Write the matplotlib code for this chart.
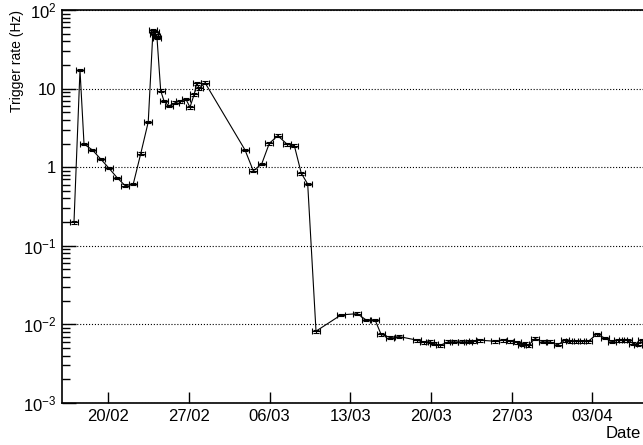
import matplotlib
matplotlib.use('Agg')
import matplotlib.pyplot as plt
import matplotlib.dates as mdates
from matplotlib.ticker import FixedLocator, LogLocator, NullFormatter
import numpy as np
import pandas as pd

# time of each measurement, in days after 16/02 00:00 (non-leap year)
start = pd.Timestamp('2017-02-16')
days = [1.04, 1.56, 1.91, 2.63, 3.36, 4.05, 4.80, 5.49, 6.18, 6.83,
        7.48, 7.89, 7.98, 8.07, 8.15, 8.24, 8.56, 8.85, 9.25, 9.80,
        10.23, 10.73, 11.10, 11.47, 11.68, 11.91, 12.40, 15.87, 16.59, 17.32,
        17.98, 18.71, 19.54, 20.15, 20.75, 21.31, 22.03, 24.20, 25.61, 26.37,
        27.15, 27.67, 28.45, 29.25, 30.79, 31.40, 31.92, 32.29, 32.78, 33.50,
        34.00, 34.67, 35.24, 35.67, 36.25, 37.55, 38.27, 38.86, 39.44, 39.87,
        40.16, 40.44, 41.02, 41.74, 42.32, 42.99, 43.63, 44.06, 44.58, 45.07,
        45.65, 46.37, 47.09, 47.68, 48.25, 48.68, 49.12, 49.55, 49.93, 50.31]
# trigger rate (Hz)
rate = [0.20, 17.3, 1.97, 1.66, 1.27, 0.98, 0.73, 0.58, 0.61, 1.49,
        3.76, 55.0, 50.0, 52.0, 47.0, 44.0, 9.4, 6.95, 6.0, 6.6,
        6.9, 7.4, 5.8, 8.5, 11.7, 10.1, 11.9, 1.66, 0.90, 1.10,
        2.01, 2.52, 1.95, 1.88, 0.84, 0.61, 0.0082, 0.0132, 0.0137, 0.0114,
        0.0114, 0.0075, 0.0068, 0.0070, 0.0063, 0.0059, 0.0060, 0.0057, 0.0054, 0.0060,
        0.0060, 0.0060, 0.0060, 0.0061, 0.0063, 0.0061, 0.0063, 0.0061, 0.0059, 0.0055,
        0.0057, 0.0054, 0.0066, 0.0060, 0.0060, 0.0055, 0.0063, 0.0061, 0.0061, 0.0061,
        0.0061, 0.0075, 0.0067, 0.0060, 0.0063, 0.0063, 0.0063, 0.0057, 0.0055, 0.0063]
half_width = 0.35   # days, horizontal error bar
rel_err = 0.04      # relative rate uncertainty

xtick_dates = ['2017-02-20', '2017-02-27', '2017-03-06', '2017-03-13',
               '2017-03-20', '2017-03-27', '2017-04-03']
xtick_labels = ['20/02', '27/02', '06/03', '13/03', '20/03', '27/03', '03/04']
ytick_vals = [1e-3, 1e-2, 1e-1, 1, 10, 100]
ytick_labels = [r'$\mathregular{10^{-3}}$', r'$\mathregular{10^{-2}}$',
                r'$\mathregular{10^{-1}}$', '1', '10', r'$\mathregular{10^{2}}$']

plt.rcParams['font.family'] = ['Liberation Sans', 'DejaVu Sans']
plt.rcParams['mathtext.fontset'] = 'custom'
plt.rcParams['mathtext.rm'] = 'Liberation Sans'

t = mdates.date2num(start + pd.to_timedelta(days, unit='D'))
rate = np.array(rate)

fig = plt.figure(figsize=(6.43, 4.45), dpi=100)
# axis runs past the right edge of the picture, as in the original
ax = fig.add_axes([62/643, 42/445, (654-62)/643, 393/445])

ax.errorbar(t, rate, xerr=half_width, yerr=rate*rel_err, fmt='-', color='black',
            lw=0.8, elinewidth=0.8, capsize=2.5, capthick=0.8)

ax.set_yscale('log')
ax.set_ylim(1e-3, 1e2)
x0 = mdates.date2num(start)
ax.set_xlim(x0, x0 + (654-62)/11.53)

ax.yaxis.set_major_locator(FixedLocator(ytick_vals))
ax.set_yticklabels(ytick_labels)
ax.yaxis.set_minor_locator(LogLocator(base=10, subs=np.arange(2, 10)))
ax.yaxis.set_minor_formatter(NullFormatter())
ax.set_xticks(mdates.date2num(pd.to_datetime(xtick_dates)))
ax.set_xticklabels(xtick_labels)

ax.tick_params(axis='y', which='major', direction='in', length=10, width=1, labelsize=12, pad=4)
ax.tick_params(axis='y', which='minor', direction='in', length=5.5, width=1)
ax.tick_params(axis='x', which='major', direction='in', length=8, width=1, labelsize=12, pad=4)
ax.tick_params(top=False, right=False)
ax.yaxis.grid(True, which='major', linestyle=':', color='black', lw=0.8)

for s in ax.spines.values():
    s.set_linewidth(1.2)

fig.text(17.5/643, 1 - 10/445, 'Trigger rate (Hz)', rotation=90, ha='center', va='top', fontsize=10)
fig.text(641/643, 7/445, 'Date', ha='right', va='baseline', fontsize=12)

fig.savefig('out.png', dpi=100)
